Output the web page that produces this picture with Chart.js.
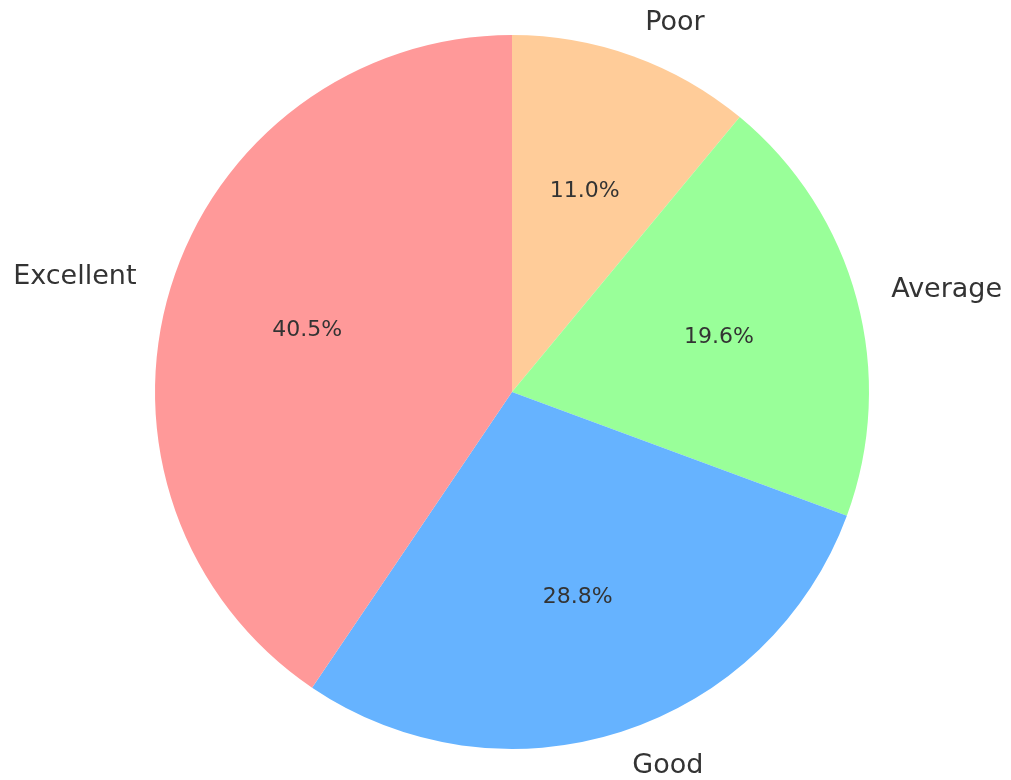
<!DOCTYPE html>
<html>
<head>
<meta charset="utf-8">
<script src="https://cdn.jsdelivr.net/npm/chart.js@4/dist/chart.umd.min.js"></script>
<style>
html,body{margin:0;padding:0;background:#fff;}
#wrap{width:1011px;height:780px;position:relative;}
</style>
</head>
<body>
<div id="wrap"><canvas id="c" width="1011" height="780"></canvas></div>
<script>
const categories = ["Poor", "Average", "Good", "Excellent"];
const values = [11.0, 19.6, 28.8, 40.5];
const colors = ["#ffcc99", "#99ff99", "#66b3ff", "#ff9999"];

const labelPlugin = {
  id: 'pieLabels',
  afterDatasetsDraw(chart) {
    const ctx = chart.ctx;
    const meta = chart.getDatasetMeta(0);
    const total = values.reduce((a, b) => a + b, 0);
    ctx.save();
    ctx.fillStyle = '#333333';
    ctx.textBaseline = 'middle';
    meta.data.forEach((arc, i) => {
      const p = arc.getProps(['x', 'y', 'startAngle', 'endAngle', 'outerRadius'], true);
      const mid = (p.startAngle + p.endAngle) / 2;
      const cx = Math.cos(mid), cy = Math.sin(mid);
      // outer label
      const lr = p.outerRadius * 1.1;
      const lx = p.x + cx * lr, ly = p.y + cy * lr;
      ctx.font = '27px "DejaVu Sans"';
      ctx.textAlign = cx > 0.0001 ? 'left' : (cx < -0.0001 ? 'right' : 'center');
      ctx.fillText(categories[i], lx, ly);
      // percent label
      const pr = p.outerRadius * 0.6;
      const px = p.x + cx * pr, py = p.y + cy * pr;
      ctx.font = '22px "DejaVu Sans"';
      ctx.textAlign = 'center';
      ctx.fillText((values[i] / total * 100).toFixed(1) + '%', px, py + 1);
    });
    ctx.restore();
  }
};

new Chart(document.getElementById('c'), {
  type: 'pie',
  data: {
    labels: categories,
    datasets: [{
      data: values,
      backgroundColor: colors,
      borderWidth: 0,
      hoverOffset: 0
    }]
  },
  options: {
    responsive: false,
    animation: false,
    layout: { padding: { left: 155, right: 142, top: 35, bottom: 31 } },
    plugins: {
      legend: { display: false },
      tooltip: { enabled: false }
    },
    events: []
  },
  plugins: [labelPlugin]
});
</script>
</body>
</html>
